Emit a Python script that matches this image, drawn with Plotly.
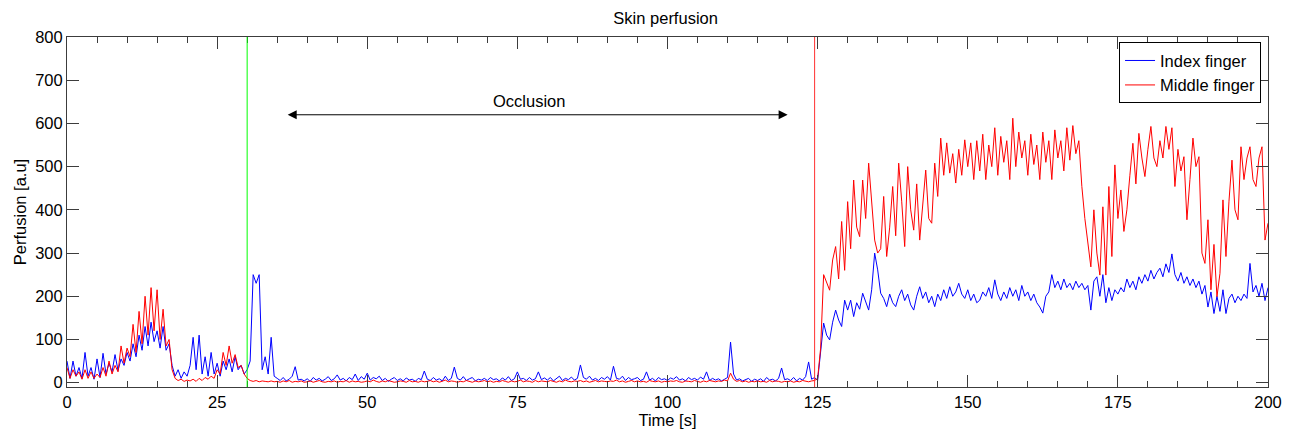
import plotly.graph_objects as go

# ---------------- data (0.5 s spacing) ----------------
STEP = 0.5

# segment A: t = 0 .. 34.5 s
index_a_start = 0.0
index_a = [
    50, 10, 50, 15, 35, 10, 70, 15, 35, 8,
    55, 12, 68, 20, 45, 25, 65, 28, 55, 40,
    70, 50, 90, 60, 110, 75, 130, 85, 140, 95,
    120, 80, 130, 75, 90, 40, 15, 30, 10, 25,
    15, 40, 105, 30, 110, 20, 60, 15, 70, 20,
    45, 15, 50, 30, 55, 25, 60, 30, 40, 20,
    30, 50, 250, 230, 250, 30, 60, 20, 105, 15,
]
middle_a = [
    35, 10, 30, 15, 25, 8, 30, 10, 25, 10,
    20, 12, 35, 15, 50, 20, 40, 25, 85, 45,
    80, 60, 135, 70, 165, 90, 200, 110, 220, 120,
    215, 100, 170, 85, 100, 30, 10, 5, 8, 3,
    6, 4, 8, 3, 10, 5, 12, 8, 15, 10,
    30, 20, 70, 40, 85, 45, 65, 35, 40, 20,
    10, 5, 3, 5, 2, 4, 3, 2, 4, 2,
]

# segment B: t = 35 .. 124.5 s (occlusion)
index_b_start = 35.0
index_b = [
    10, 5, 12, 4, 8, 15, 37, 6, 8, 4,
    9, 3, 12, 6, 10, 4, 8, 14, 5, 9,
    18, 6, 10, 4, 12, 7, 20, 5, 14, 8,
    22, 6, 12, 9, 15, 5, 10, 3, 8, 12,
    5, 9, 4, 11, 6, 8, 3, 10, 7, 27,
    8, 5, 12, 6, 9, 4, 15, 5, 10, 36,
    10, 6, 14, 5, 9, 12, 4, 8, 6, 10,
    5, 12, 7, 9, 4, 11, 6, 14, 5, 9,
    25, 8, 10, 5, 12, 6, 9, 25, 7, 11,
    6, 12, 4, 9, 15, 5, 10, 7, 13, 6,
    10, 41, 12, 8, 15, 6, 10, 5, 12, 8,
    14, 6, 38, 10, 8, 15, 5, 12, 7, 9,
    12, 5, 8, 25, 6, 10, 4, 12, 7, 9,
    5, 11, 8, 14, 6, 9, 4, 12, 7, 10,
    6, 13, 8, 25, 5, 10, 6, 9, 4, 8,
    12, 94, 20, 6, 9, 4, 7, 10, 3, 8,
    5, 9, 3, 12, 6, 8, 4, 10, 34, 7,
    9, 5, 12, 4, 10, 6, 14, 48, 8, 12,
]
middle_b = [
    3, 1, 4, 2, 5, 1, 3, 2, 4, 1,
    2, 4, 1, 3, 5, 2, 1, 3, 2, 4,
    1, 3, 2, 5, 1, 4, 2, 3, 1, 2,
    4, 2, 6, 3, 1, 4, 2, 5, 3, 1,
    2, 4, 3, 1, 5, 2, 3, 1, 4, 2,
    3, 5, 2, 4, 1, 3, 6, 2, 4, 3,
    1, 3, 2, 5, 3, 1, 4, 2, 3, 5,
    2, 4, 1, 3, 2, 5, 3, 1, 4, 2,
    3, 6, 2, 4, 3, 1, 5, 2, 4, 3,
    2, 5, 3, 1, 4, 2, 6, 3, 2, 4,
    3, 5, 2, 4, 1, 3, 5, 2, 4, 3,
    2, 4, 3, 6, 2, 4, 1, 3, 5, 2,
    4, 2, 3, 1, 5, 3, 2, 4, 1, 3,
    2, 4, 3, 5, 2, 1, 4, 3, 2, 5,
    3, 1, 4, 2, 5, 3, 2, 4, 3, 6,
    4, 22, 8, 3, 5, 2, 4, 1, 3, 2,
    4, 2, 3, 1, 5, 2, 4, 3, 1, 3,
    2, 4, 1, 3, 2, 5, 3, 2, 4, 5,
]

# segment C: t = 125 .. 200 s (reperfusion)
index_c_start = 125.0
index_c = [
    5, 76, 138, 110, 99, 140, 168, 145, 130, 191,
    168, 191, 153, 185, 170, 207, 185, 168, 215, 300,
    261, 207, 195, 176, 205, 185, 176, 200, 215, 190,
    205, 180, 168, 200, 222, 195, 210, 185, 200, 176,
    205, 190, 215, 195, 222, 200, 210, 230, 205, 195,
    215, 190, 205, 185, 191, 210, 200, 220, 195, 238,
    205, 190, 210, 195, 220, 200, 215, 190, 225, 200,
    210, 190, 205, 185, 175, 161, 200, 210, 250, 220,
    235, 215, 240, 220, 230, 215, 235, 220, 230, 215,
    225, 168, 235, 245, 200, 250, 185, 220, 190, 215,
    205, 220, 210, 240, 220, 235, 215, 245, 230, 250,
    235, 260, 240, 255, 265, 245, 275, 255, 298, 250,
    235, 255, 230, 245, 225, 240, 220, 235, 205, 225,
    175, 210, 160, 200, 165, 215, 160, 195, 205, 185,
    200, 190, 205, 195, 276, 210, 225, 200, 230, 190,
    220,
]
middle_c = [
    10, 80, 250, 230, 214, 284, 315, 240, 373, 260,
    419, 310, 469, 360, 338, 469, 380, 508, 420, 330,
    300, 310, 431, 292, 360, 454, 340, 508, 420, 315,
    500, 400, 353, 460, 330, 420, 492, 380, 369, 508,
    431, 566, 480, 555, 485, 530, 462, 540, 480, 562,
    500, 555, 470, 560, 490, 575, 470, 550, 500, 590,
    480, 570, 510, 560, 470, 612, 500, 580, 520, 560,
    480, 575, 505, 550, 470, 580, 510, 560, 470, 585,
    520, 560, 490, 590, 515, 595, 530, 560, 454, 380,
    330, 268, 400, 300, 249, 407, 249, 454, 292, 504,
    380, 446, 350, 400, 480, 554, 460, 577, 520, 477,
    540, 593, 520, 500, 560, 520, 593, 540, 590, 454,
    540, 490, 523, 377, 470, 566, 500, 523, 300, 276,
    377, 215, 320, 199, 253, 423, 292, 420, 515, 400,
    377, 546, 470, 520, 546, 470, 454, 520, 546, 330,
    369,
]

occlusion_start = 30.0
occlusion_release = 124.5
arrow_from, arrow_to, arrow_level = 36.5, 120.0, 620
label_text = "Occlusion"
label_x, label_y = 77, 652

x_ticks = [0, 25, 50, 75, 100, 125, 150, 175, 200]
y_ticks = [0, 100, 200, 300, 400, 500, 600, 700, 800]


def times(start, vals):
    return [start + STEP * i for i in range(len(vals))]


index_t = times(index_a_start, index_a) + times(index_b_start, index_b) + times(index_c_start, index_c)
index_v = index_a + index_b + index_c
middle_t = times(index_a_start, middle_a) + times(index_b_start, middle_b) + times(index_c_start, middle_c)
middle_v = middle_a + middle_b + middle_c

FONT = "Liberation Sans, Arial, Helvetica, sans-serif"
FS = 16.5
AX = "#3c3c3c"

fig = go.Figure()
fig.add_trace(go.Scatter(x=index_t, y=index_v, mode="lines", name="Index finger",
                         line=dict(color="#0000ff", width=1)))
fig.add_trace(go.Scatter(x=middle_t, y=middle_v, mode="lines", name="Middle finger",
                         line=dict(color="#ff0000", width=1)))

fig.add_shape(type="line", xref="x", yref="paper", x0=occlusion_start, x1=occlusion_start,
              y0=0, y1=1, line=dict(color="#00ff00", width=1))
fig.add_shape(type="line", xref="x", yref="paper", x0=occlusion_release, x1=occlusion_release,
              y0=0, y1=1, line=dict(color="#ff3030", width=1))

fig.add_annotation(x=arrow_to, y=arrow_level, ax=arrow_from, ay=arrow_level,
                   xref="x", yref="y", axref="x", ayref="y", text="",
                   showarrow=True, arrowhead=2, startarrowhead=2, arrowside="end+start",
                   arrowsize=1.8, startarrowsize=1.8, arrowwidth=1, arrowcolor="#000000")
fig.add_annotation(x=label_x, y=label_y, xref="x", yref="y", text=label_text,
                   showarrow=False, font=dict(size=FS, color="#000000", family=FONT))

# page body has an 8 px margin, so the margins are shifted by 8 px
fig.update_layout(
    width=1292, height=432,
    margin=dict(l=59, r=32, t=29, b=53),
    paper_bgcolor="#ffffff", plot_bgcolor="#ffffff",
    font=dict(family=FONT, size=FS, color="#000000"),
    title=dict(text="Skin perfusion", x=0.509, xanchor="center", y=0.976, yanchor="middle",
               font=dict(size=FS, family=FONT, color="#000000")),
    showlegend=True,
    legend=dict(x=0.9942, xanchor="right", y=0.985, yanchor="top",
                bordercolor="#000000", borderwidth=1, bgcolor="#ffffff",
                font=dict(size=FS, family=FONT, color="#000000"),
                tracegroupgap=0, itemwidth=30),
)
fig.update_xaxes(range=[0, 200], tickvals=x_ticks, ticks="inside", ticklen=12, tickcolor=AX,
                 showline=True, linecolor=AX, linewidth=1, mirror="ticks",
                 showgrid=False, zeroline=False,
                 minor=dict(dtick=5, tick0=0, ticks="inside", ticklen=6, tickcolor=AX, showgrid=False),
                 title=dict(text="Time [s]", standoff=2, font=dict(size=FS)),
                 tickfont=dict(size=FS))
fig.update_yaxes(range=[-10, 800], tickvals=y_ticks, ticks="inside", ticklen=12, tickcolor=AX,
                 showline=True, linecolor=AX, linewidth=1, mirror="ticks",
                 showgrid=False, zeroline=False,
                 title=dict(text="Perfusion [a.u]", standoff=4, font=dict(size=FS)),
                 tickfont=dict(size=FS))

fig.write_html("out.html")
